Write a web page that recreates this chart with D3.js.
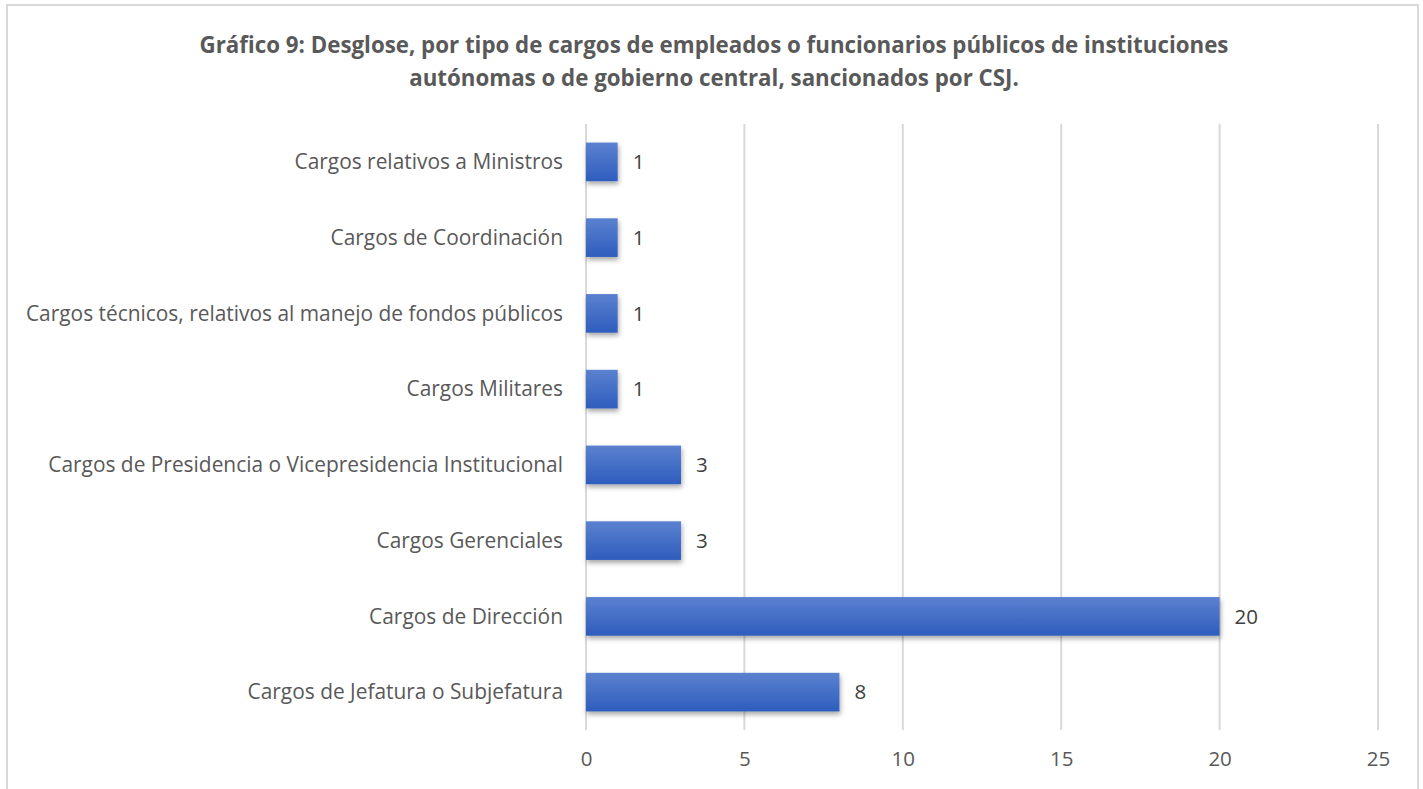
<!DOCTYPE html>
<meta charset="utf-8">
<style>
body { margin: 0; background: #fff; }
svg text { font-family: "Open Sans", sans-serif; fill: #595959; }
.grid line { stroke: #d9d9d9; stroke-width: 2px; }
.title { font-weight: bold; font-size: 22.3px; }
.cat { font-size: 20.9px; }
.val { font-size: 20.5px; fill: #404040; }
.tick text { font-size: 20.5px; fill: #595959; }
</style>
<body>
<script src="https://cdn.jsdelivr.net/npm/d3@7"></script>
<script>

// categories top to bottom
var categories = [
  "Cargos relativos a Ministros",
  "Cargos de Coordinación",
  "Cargos técnicos, relativos al manejo de fondos públicos",
  "Cargos Militares",
  "Cargos de Presidencia o Vicepresidencia Institucional",
  "Cargos Gerenciales",
  "Cargos de Dirección",
  "Cargos de Jefatura o Subjefatura"
];
var values = [1, 1, 1, 1, 3, 3, 20, 8];
var xTicks = [0, 5, 10, 15, 20, 25];
var titleLines = [
  "Gráfico 9: Desglose, por tipo de cargos de empleados o funcionarios públicos de instituciones",
  "autónomas o de gobierno central, sancionados por CSJ."
];

var W = 1423, H = 789;
var margin = {top: 124, right: 45, bottom: 59, left: 586},
    width = W - margin.left - margin.right,
    height = H - margin.top - margin.bottom;

var svg = d3.select("body").append("svg")
    .attr("width", W)
    .attr("height", H);

// frame
svg.append("rect")
    .attr("x", 7).attr("y", 5)
    .attr("width", 1411).attr("height", 800)
    .attr("fill", "none")
    .attr("stroke", "#d9d9d9")
    .attr("stroke-width", 2);

var defs = svg.append("defs");
var grad = defs.append("linearGradient")
    .attr("id", "barGrad")
    .attr("x1", 0).attr("y1", 0).attr("x2", 0).attr("y2", 1);
grad.append("stop").attr("offset", "0%").attr("stop-color", "#5b81d0");
grad.append("stop").attr("offset", "100%").attr("stop-color", "#2e5dbd");

var shadow = defs.append("filter")
    .attr("id", "shadow")
    .attr("x", "-10%").attr("y", "-30%")
    .attr("width", "130%").attr("height", "180%");
shadow.append("feDropShadow")
    .attr("dx", 1).attr("dy", 3)
    .attr("stdDeviation", 2.5)
    .attr("flood-color", "#000")
    .attr("flood-opacity", 0.35);

// title
svg.selectAll(".title")
    .data(titleLines)
  .enter().append("text")
    .attr("class", "title")
    .attr("x", 714)
    .attr("y", function(d, i) { return 53 + i * 33; })
    .attr("text-anchor", "middle")
    .text(function(d) { return d; });

var g = svg.append("g")
    .attr("transform", "translate(" + margin.left + "," + margin.top + ")");

var x = d3.scaleLinear().domain([0, 25]).range([0, width]);
var y = d3.scaleBand().domain(categories).range([0, height]).paddingInner(0.49).paddingOuter(0.245);

// vertical gridlines
g.append("g")
    .attr("class", "grid")
    .selectAll("line")
    .data(xTicks)
  .enter().append("line")
    .attr("x1", function(d) { return x(d); })
    .attr("x2", function(d) { return x(d); })
    .attr("y1", 0)
    .attr("y2", height);

// x axis labels
var xAxis = g.append("g")
    .attr("transform", "translate(0," + height + ")")
    .call(d3.axisBottom(x).tickValues(xTicks).tickSize(0).tickPadding(24));
xAxis.select(".domain").remove();
xAxis.selectAll("text").attr("dy", "0.6em");

// bars
g.selectAll(".bar")
    .data(values)
  .enter().append("rect")
    .attr("class", "bar")
    .attr("x", x(0))
    .attr("y", function(d, i) { return y(categories[i]); })
    .attr("width", function(d) { return x(d) - x(0); })
    .attr("height", y.bandwidth())
    .attr("fill", "url(#barGrad)")
    .attr("filter", "url(#shadow)");

// value labels
g.selectAll(".val")
    .data(values)
  .enter().append("text")
    .attr("class", "val")
    .attr("x", function(d) { return x(d) + 15; })
    .attr("y", function(d, i) { return y(categories[i]) + y.bandwidth() / 2; })
    .attr("dy", "0.35em")
    .text(function(d) { return d; });

// category labels
g.selectAll(".cat")
    .data(categories)
  .enter().append("text")
    .attr("class", "cat")
    .attr("x", -23)
    .attr("y", function(d) { return y(d) + y.bandwidth() / 2; })
    .attr("dy", "0.35em")
    .attr("text-anchor", "end")
    .text(function(d) { return d; });

</script>
</body>
